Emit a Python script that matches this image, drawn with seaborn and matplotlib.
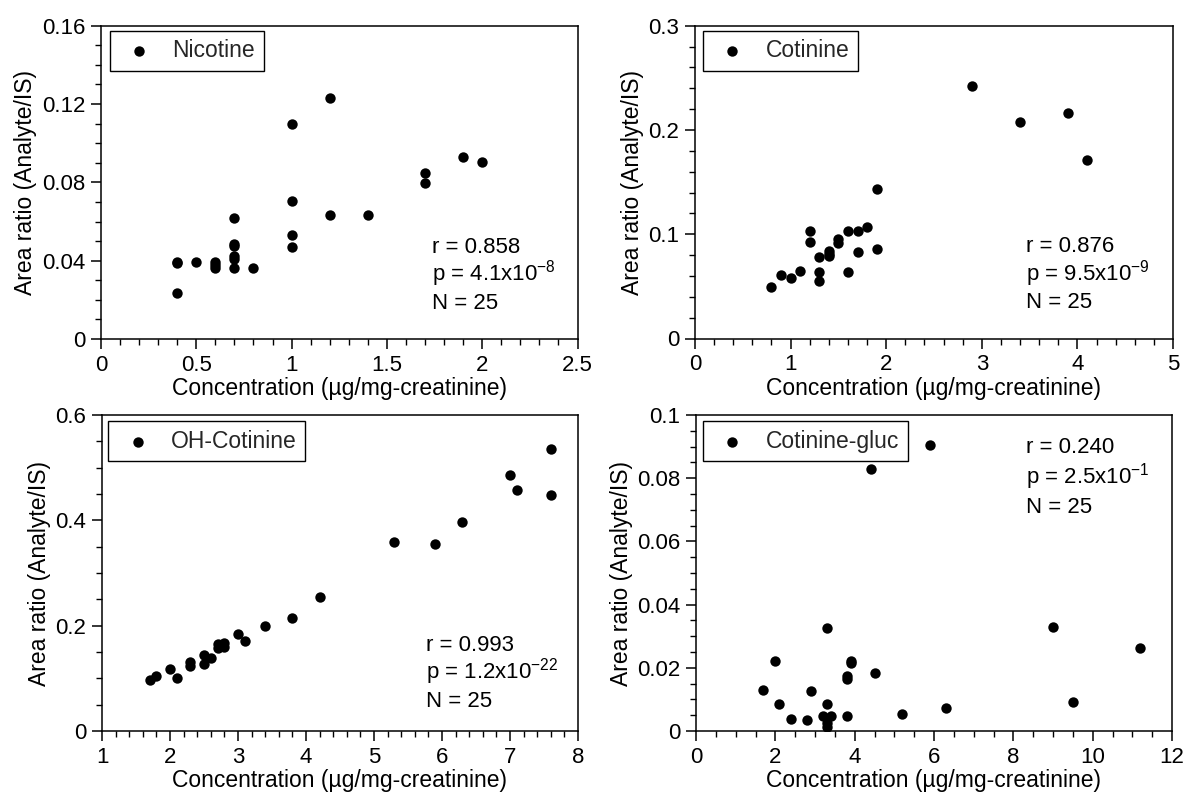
import matplotlib
matplotlib.use('Agg')
import matplotlib.pyplot as plt
import seaborn as sns
from matplotlib.ticker import AutoMinorLocator, FuncFormatter

# ---------------- data ----------------
nic_x = [0.4, 0.4, 0.4, 0.5, 0.6, 0.6, 0.6, 0.7, 0.7, 0.7, 0.7, 0.7, 0.7, 0.8,
         1.0, 1.0, 1.0, 1.0, 1.2, 1.2, 1.4, 1.7, 1.7, 1.9, 2.0]
nic_y = [0.0392, 0.0388, 0.0236, 0.0395, 0.0395, 0.0380, 0.0365, 0.0618, 0.0485,
         0.0475, 0.0425, 0.0410, 0.0365, 0.0365, 0.1100, 0.0703, 0.0531, 0.0470,
         0.1229, 0.0635, 0.0635, 0.0846, 0.0795, 0.0931, 0.0905]

cot_x = [0.8, 0.9, 1.0, 1.1, 1.2, 1.2, 1.3, 1.3, 1.3, 1.4, 1.4, 1.4, 1.5, 1.5,
         1.6, 1.6, 1.7, 1.7, 1.8, 1.9, 1.9, 2.9, 3.4, 3.9, 4.1]
cot_y = [0.0497, 0.0606, 0.0583, 0.0650, 0.1028, 0.0925, 0.0785, 0.0640, 0.0554,
         0.0839, 0.0815, 0.0791, 0.0957, 0.0919, 0.1028, 0.0635, 0.1028, 0.0832,
         0.1072, 0.1437, 0.0855, 0.2425, 0.2079, 0.2160, 0.1709]

ohc_x = [1.7, 1.8, 2.0, 2.1, 2.3, 2.3, 2.5, 2.5, 2.6, 2.7, 2.7, 2.8, 2.8, 3.0,
         3.1, 3.4, 3.8, 4.2, 5.3, 5.9, 6.3, 7.0, 7.1, 7.6, 7.6]
ohc_y = [0.096, 0.104, 0.118, 0.101, 0.131, 0.123, 0.144, 0.127, 0.138, 0.165,
         0.158, 0.168, 0.160, 0.184, 0.170, 0.199, 0.215, 0.254, 0.358, 0.355,
         0.397, 0.486, 0.458, 0.535, 0.449]

glu_x = [1.7, 2.0, 2.1, 2.4, 2.8, 2.9, 3.2, 3.3, 3.3, 3.3, 3.3, 3.4, 3.8, 3.8,
         3.8, 3.9, 3.9, 4.4, 4.5, 5.2, 5.9, 6.3, 9.0, 9.5, 11.2]
glu_y = [0.0131, 0.0222, 0.0084, 0.0037, 0.0034, 0.0128, 0.0048, 0.0327, 0.0084,
         0.0014, 0.0024, 0.0048, 0.0175, 0.0164, 0.0048, 0.0222, 0.0215, 0.0830,
         0.0183, 0.0054, 0.0905, 0.0074, 0.0329, 0.0092, 0.0263]

labels = ['Nicotine', 'Cotinine', 'OH-Cotinine', 'Cotinine-gluc']
r_vals = ['0.858', '0.876', '0.993', '0.240']
p_mant = ['4.1', '9.5', '1.2', '2.5']
p_exp = ['-8', '-9', '-22', '-1']
n_vals = ['25', '25', '25', '25']

nic_xticks = [0, 0.5, 1, 1.5, 2, 2.5]
nic_yticks = [0, 0.04, 0.08, 0.12, 0.16]
cot_xticks = [0, 1, 2, 3, 4, 5]
cot_yticks = [0, 0.1, 0.2, 0.3]
ohc_xticks = [1, 2, 3, 4, 5, 6, 7, 8]
ohc_yticks = [0, 0.2, 0.4, 0.6]
glu_xticks = [0, 2, 4, 6, 8, 10, 12]
glu_yticks = [0, 0.02, 0.04, 0.06, 0.08, 0.1]

xlabel = 'Concentration (µg/mg-creatinine)'
ylabel = 'Area ratio (Analyte/IS)'

# ---------------- style ----------------
sns.set_theme(style='ticks')
plt.rcParams['font.family'] = ['Liberation Sans', 'DejaVu Sans']
plt.rcParams['mathtext.fontset'] = 'custom'
plt.rcParams['mathtext.rm'] = 'Liberation Sans'
plt.rcParams['mathtext.it'] = 'Liberation Sans:italic'
plt.rcParams['mathtext.bf'] = 'Liberation Sans:bold'

fig = plt.figure(figsize=(11.86, 7.94), dpi=100, facecolor='white')

W, H = 1186.0, 794.0
def frac(l, t, r, b):
    return [l / W, 1 - b / H, (r - l) / W, (b - t) / H]

panels = [
    dict(x=nic_x, y=nic_y, xt=nic_xticks, yt=nic_yticks, pos=frac(101, 25.7, 577.5, 339),
         leg=(0.019, 0.984), tx=0.694, ty=[0.276, 0.186, 0.096]),
    dict(x=cot_x, y=cot_y, xt=cot_xticks, yt=cot_yticks, pos=frac(695, 25.7, 1173, 338.5),
         leg=(0.017, 0.984), tx=0.692, ty=[0.276, 0.186, 0.096]),
    dict(x=ohc_x, y=ohc_y, xt=ohc_xticks, yt=ohc_yticks, pos=frac(102, 415, 578, 731),
         leg=(0.013, 0.981), tx=0.681, ty=[0.254, 0.165, 0.076]),
    dict(x=glu_x, y=glu_y, xt=glu_xticks, yt=glu_yticks, pos=frac(696, 415, 1172, 731),
         leg=(0.015, 0.981), tx=0.693, ty=[0.880, 0.782, 0.690]),
]

fmt = FuncFormatter(lambda v, _: f'{v:g}')

for i, p in enumerate(panels):
    ax = fig.add_axes(p['pos'])
    sns.scatterplot(x=p['x'], y=p['y'], ax=ax, color='black', s=56,
                    linewidth=0, label=labels[i], zorder=3)
    ax.set_xlim(p['xt'][0], p['xt'][-1])
    ax.set_ylim(p['yt'][0], p['yt'][-1])
    ax.set_xticks(p['xt'])
    ax.set_yticks(p['yt'])
    ax.xaxis.set_major_formatter(fmt)
    ax.yaxis.set_major_formatter(fmt)
    ax.xaxis.set_minor_locator(AutoMinorLocator())
    ax.yaxis.set_minor_locator(AutoMinorLocator())
    ax.tick_params(which='major', direction='out', length=7, width=1.1,
                   labelsize=16, pad=4.5, colors='black', top=False, right=False)
    ax.tick_params(which='minor', direction='out', length=4, width=1.0,
                   colors='black', top=False, right=False)
    for sp in ax.spines.values():
        sp.set_visible(True)
        sp.set_color('black')
        sp.set_linewidth(1.1)
    ax.set_xlabel(xlabel, fontsize=16.5, labelpad=1, color='black')
    ax.set_ylabel(ylabel, fontsize=16.5, labelpad=3, color='black')
    ax.grid(False)

    leg = ax.legend(loc='upper left', bbox_to_anchor=p['leg'], borderaxespad=0,
                    fontsize=16.5, frameon=True, fancybox=False, edgecolor='black',
                    framealpha=1, borderpad=0.38, handlelength=1.8,
                    handletextpad=0.55, markerscale=1.0)
    leg.get_frame().set_linewidth(1.0)

    texts = [f'r = {r_vals[i]}',
             f'p = {p_mant[i]}x10$^{{{p_exp[i]}}}$',
             f'N = {n_vals[i]}']
    for t, yy in zip(texts, p['ty']):
        ax.text(p['tx'], yy, t, transform=ax.transAxes, fontsize=16,
                ha='left', va='baseline', color='black')

fig.savefig('out.png', dpi=100, facecolor='white')
